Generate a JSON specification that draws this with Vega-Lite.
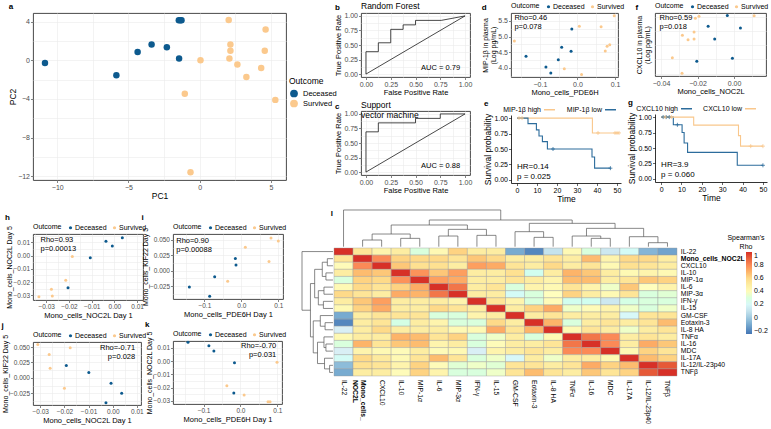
{
"$schema":"https://vega.github.io/schema/vega-lite/v6.json",
"background":"white",
"padding":{"left":0,"top":1,"right":0,"bottom":0},
"config":{
 "font":"Liberation Sans",
 "view":{"stroke":"#333333","strokeWidth":0.9},
 "axis":{"labelFontSize":7,"titleFontSize":7.5,"titleFontWeight":"normal","labelColor":"#4D4D4D","titleColor":"#000000","tickColor":"#333333","tickSize":2.5,"tickWidth":0.6,"domain":false,"gridColor":"#EBEBEB","gridWidth":0.6,"labelPadding":1,"titlePadding":1,"labelFlush":false,"labelOverlap":false,"labelBound":false,"tickCount":100},
 "legend":{"labelFontSize":7.5,"titleFontSize":7.5,"titleFontWeight":"normal","labelColor":"#000000","titleColor":"#000000"},
 "title":{"fontSize":8,"fontWeight":"bold","anchor":"start","frame":"bounds","offset":2,"color":"#000000"}
},
"datasets":{
 "leaves":[
  {"name":"IL-22","pos":0.5,"lab":"IL-22"},
  {"name":"Mono_cells_NOC2L","pos":1.5,"lab":"Mono_cells_\nNOC2L"},
  {"name":"CXCL10","pos":2.5,"lab":"CXCL10"},
  {"name":"IL-10","pos":3.5,"lab":"IL-10"},
  {"name":"MIP-1α","pos":4.5,"lab":"MIP-1α"},
  {"name":"IL-6","pos":5.5,"lab":"IL-6"},
  {"name":"MIP-3α","pos":6.5,"lab":"MIP-3α"},
  {"name":"IFN-γ","pos":7.5,"lab":"IFN-γ"},
  {"name":"IL-15","pos":8.5,"lab":"IL-15"},
  {"name":"GM-CSF","pos":9.5,"lab":"GM-CSF"},
  {"name":"Eotaxin-3","pos":10.5,"lab":"Eotaxin-3"},
  {"name":"IL-8 HA","pos":11.5,"lab":"IL-8 HA"},
  {"name":"TNFα","pos":12.5,"lab":"TNFα"},
  {"name":"IL-16","pos":13.5,"lab":"IL-16"},
  {"name":"MDC","pos":14.5,"lab":"MDC"},
  {"name":"IL-17A","pos":15.5,"lab":"IL-17A"},
  {"name":"IL-12/IL-23p40","pos":16.5,"lab":"IL-12/IL-23p40"},
  {"name":"TNFβ","pos":17.5,"lab":"TNFβ"}
 ],
 "hm":[
  {"r":"IL-22","c":["IL-22","Mono_cells_NOC2L","CXCL10","IL-10","MIP-1α","IL-6","MIP-3α","IFN-γ","IL-15","GM-CSF","Eotaxin-3","IL-8 HA","TNFα","IL-16","MDC","IL-17A","IL-12/IL-23p40","TNFβ"],"v":[1,0.55,0.45,0.5,0.3,0.42,0.62,0.5,0.5,-0.1,-0.2,0.1,0.42,0.3,0.12,0.22,-0.07,-0.12]},
  {"r":"Mono_cells_NOC2L","c":["IL-22","Mono_cells_NOC2L","CXCL10","IL-10","MIP-1α","IL-6","MIP-3α","IFN-γ","IL-15","GM-CSF","Eotaxin-3","IL-8 HA","TNFα","IL-16","MDC","IL-17A","IL-12/IL-23p40","TNFβ"],"v":[0.55,1,0.8,0.62,0.6,0.6,0.55,0.65,0.6,0.5,0.5,0.55,0.5,0.68,0.45,0.6,0.6,0.5]},
  {"r":"CXCL10","c":["IL-22","Mono_cells_NOC2L","CXCL10","IL-10","MIP-1α","IL-6","MIP-3α","IFN-γ","IL-15","GM-CSF","Eotaxin-3","IL-8 HA","TNFα","IL-16","MDC","IL-17A","IL-12/IL-23p40","TNFβ"],"v":[0.4,0.8,1,0.65,0.58,0.58,0.5,0.75,0.72,0.55,0.5,0.6,0.5,0.55,0.42,0.58,0.55,0.5]},
  {"r":"IL-10","c":["IL-22","Mono_cells_NOC2L","CXCL10","IL-10","MIP-1α","IL-6","MIP-3α","IFN-γ","IL-15","GM-CSF","Eotaxin-3","IL-8 HA","TNFα","IL-16","MDC","IL-17A","IL-12/IL-23p40","TNFβ"],"v":[0.5,0.68,0.65,1,0.78,0.65,0.75,0.5,0.5,0.58,0.25,0.5,0.7,0.65,0.5,0.42,0.45,0.42]},
  {"r":"MIP-1α","c":["IL-22","Mono_cells_NOC2L","CXCL10","IL-10","MIP-1α","IL-6","MIP-3α","IFN-γ","IL-15","GM-CSF","Eotaxin-3","IL-8 HA","TNFα","IL-16","MDC","IL-17A","IL-12/IL-23p40","TNFβ"],"v":[0.3,0.62,0.6,0.78,1,0.75,0.72,0.5,0.5,0.55,0.5,0.45,0.68,0.68,0.5,0.55,0.65,0.62]},
  {"r":"IL-6","c":["IL-22","Mono_cells_NOC2L","CXCL10","IL-10","MIP-1α","IL-6","MIP-3α","IFN-γ","IL-15","GM-CSF","Eotaxin-3","IL-8 HA","TNFα","IL-16","MDC","IL-17A","IL-12/IL-23p40","TNFβ"],"v":[0.42,0.6,0.55,0.62,0.72,1,0.85,0.5,0.55,0.3,0.45,0.42,0.55,0.45,0.35,0.65,0.38,0.45]},
  {"r":"MIP-3α","c":["IL-22","Mono_cells_NOC2L","CXCL10","IL-10","MIP-1α","IL-6","MIP-3α","IFN-γ","IL-15","GM-CSF","Eotaxin-3","IL-8 HA","TNFα","IL-16","MDC","IL-17A","IL-12/IL-23p40","TNFβ"],"v":[0.6,0.55,0.5,0.72,0.7,0.85,1,0.5,0.5,0.22,0.3,0.38,0.62,0.5,0.42,0.55,0.3,0.32]},
  {"r":"IFN-γ","c":["IL-22","Mono_cells_NOC2L","CXCL10","IL-10","MIP-1α","IL-6","MIP-3α","IFN-γ","IL-15","GM-CSF","Eotaxin-3","IL-8 HA","TNFα","IL-16","MDC","IL-17A","IL-12/IL-23p40","TNFβ"],"v":[0.5,0.65,0.75,0.5,0.5,0.5,0.45,1,0.55,0.45,0.3,0.4,0.25,0.25,0.12,0.28,0.3,0.3]},
  {"r":"IL-15","c":["IL-22","Mono_cells_NOC2L","CXCL10","IL-10","MIP-1α","IL-6","MIP-3α","IFN-γ","IL-15","GM-CSF","Eotaxin-3","IL-8 HA","TNFα","IL-16","MDC","IL-17A","IL-12/IL-23p40","TNFβ"],"v":[0.42,0.62,0.72,0.5,0.5,0.6,0.55,0.5,1,0.5,0.62,0.72,0.35,0.4,0.45,0.35,0.3,0.35]},
  {"r":"GM-CSF","c":["IL-22","Mono_cells_NOC2L","CXCL10","IL-10","MIP-1α","IL-6","MIP-3α","IFN-γ","IL-15","GM-CSF","Eotaxin-3","IL-8 HA","TNFα","IL-16","MDC","IL-17A","IL-12/IL-23p40","TNFβ"],"v":[-0.1,0.5,0.55,0.55,0.55,0.3,0.3,0.45,0.5,1,0.5,0.55,0.5,0.5,0.5,0.2,0.55,0.55]},
  {"r":"Eotaxin-3","c":["IL-22","Mono_cells_NOC2L","CXCL10","IL-10","MIP-1α","IL-6","MIP-3α","IFN-γ","IL-15","GM-CSF","Eotaxin-3","IL-8 HA","TNFα","IL-16","MDC","IL-17A","IL-12/IL-23p40","TNFβ"],"v":[-0.2,0.5,0.55,0.28,0.5,0.45,0.3,0.3,0.6,0.5,1,0.7,0.3,0.5,0.55,0.5,0.55,0.68]},
  {"r":"IL-8 HA","c":["IL-22","Mono_cells_NOC2L","CXCL10","IL-10","MIP-1α","IL-6","MIP-3α","IFN-γ","IL-15","GM-CSF","Eotaxin-3","IL-8 HA","TNFα","IL-16","MDC","IL-17A","IL-12/IL-23p40","TNFβ"],"v":[0.15,0.5,0.6,0.5,0.5,0.5,0.42,0.42,0.72,0.55,0.7,1,0.42,0.55,0.5,0.35,0.5,0.55]},
  {"r":"TNFα","c":["IL-22","Mono_cells_NOC2L","CXCL10","IL-10","MIP-1α","IL-6","MIP-3α","IFN-γ","IL-15","GM-CSF","Eotaxin-3","IL-8 HA","TNFα","IL-16","MDC","IL-17A","IL-12/IL-23p40","TNFβ"],"v":[0.42,0.5,0.5,0.7,0.68,0.55,0.62,0.3,0.35,0.5,0.3,0.42,1,0.85,0.8,0.5,0.55,0.5]},
  {"r":"IL-16","c":["IL-22","Mono_cells_NOC2L","CXCL10","IL-10","MIP-1α","IL-6","MIP-3α","IFN-γ","IL-15","GM-CSF","Eotaxin-3","IL-8 HA","TNFα","IL-16","MDC","IL-17A","IL-12/IL-23p40","TNFβ"],"v":[0.3,0.7,0.55,0.65,0.68,0.45,0.5,0.3,0.4,0.5,0.5,0.55,0.85,1,0.8,0.5,0.72,0.65]},
  {"r":"MDC","c":["IL-22","Mono_cells_NOC2L","CXCL10","IL-10","MIP-1α","IL-6","MIP-3α","IFN-γ","IL-15","GM-CSF","Eotaxin-3","IL-8 HA","TNFα","IL-16","MDC","IL-17A","IL-12/IL-23p40","TNFβ"],"v":[0.15,0.45,0.42,0.4,0.5,0.4,0.42,0.15,0.45,0.5,0.55,0.5,0.8,0.8,1,0.42,0.62,0.55]},
  {"r":"IL-17A","c":["IL-22","Mono_cells_NOC2L","CXCL10","IL-10","MIP-1α","IL-6","MIP-3α","IFN-γ","IL-15","GM-CSF","Eotaxin-3","IL-8 HA","TNFα","IL-16","MDC","IL-17A","IL-12/IL-23p40","TNFβ"],"v":[0.22,0.6,0.52,0.42,0.55,0.68,0.55,0.3,0.35,0.2,0.5,0.35,0.5,0.5,0.42,1,0.68,0.62]},
  {"r":"IL-12/IL-23p40","c":["IL-22","Mono_cells_NOC2L","CXCL10","IL-10","MIP-1α","IL-6","MIP-3α","IFN-γ","IL-15","GM-CSF","Eotaxin-3","IL-8 HA","TNFα","IL-16","MDC","IL-17A","IL-12/IL-23p40","TNFβ"],"v":[-0.05,0.58,0.55,0.45,0.62,0.4,0.32,0.35,0.32,0.55,0.55,0.5,0.55,0.72,0.62,0.68,1,0.92]},
  {"r":"TNFβ","c":["IL-22","Mono_cells_NOC2L","CXCL10","IL-10","MIP-1α","IL-6","MIP-3α","IFN-γ","IL-15","GM-CSF","Eotaxin-3","IL-8 HA","TNFα","IL-16","MDC","IL-17A","IL-12/IL-23p40","TNFβ"],"v":[-0.1,0.5,0.5,0.4,0.62,0.45,0.3,0.3,0.35,0.55,0.68,0.55,0.5,0.65,0.55,0.62,0.92,1]}
 ],
 "dendro":[
  {"p1":1.5,"p2":2.5,"h1":20,"h2":20},{"p1":1.5,"p2":1.5,"h1":0,"h2":20},{"p1":2.5,"p2":2.5,"h1":0,"h2":20},
  {"p1":3.5,"p2":4.5,"h1":25,"h2":25},{"p1":3.5,"p2":3.5,"h1":0,"h2":25},{"p1":4.5,"p2":4.5,"h1":0,"h2":25},
  {"p1":2,"p2":4,"h1":38,"h2":38},{"p1":2,"p2":2,"h1":20,"h2":38},{"p1":4,"p2":4,"h1":25,"h2":38},
  {"p1":5.5,"p2":6.5,"h1":32,"h2":32},{"p1":5.5,"p2":5.5,"h1":0,"h2":32},{"p1":6.5,"p2":6.5,"h1":0,"h2":32},
  {"p1":7.5,"p2":8.5,"h1":34,"h2":34},{"p1":7.5,"p2":7.5,"h1":0,"h2":34},{"p1":8.5,"p2":8.5,"h1":0,"h2":34},
  {"p1":6,"p2":8,"h1":52,"h2":52},{"p1":6,"p2":6,"h1":32,"h2":52},{"p1":8,"p2":8,"h1":34,"h2":52},
  {"p1":3,"p2":7,"h1":65,"h2":65},{"p1":3,"p2":3,"h1":38,"h2":65},{"p1":7,"p2":7,"h1":52,"h2":65},
  {"p1":10.5,"p2":11.5,"h1":28,"h2":28},{"p1":10.5,"p2":10.5,"h1":0,"h2":28},{"p1":11.5,"p2":11.5,"h1":0,"h2":28},
  {"p1":9.5,"p2":11,"h1":45,"h2":45},{"p1":9.5,"p2":9.5,"h1":0,"h2":45},{"p1":11,"p2":11,"h1":28,"h2":45},
  {"p1":13.5,"p2":14.5,"h1":25,"h2":25},{"p1":13.5,"p2":13.5,"h1":0,"h2":25},{"p1":14.5,"p2":14.5,"h1":0,"h2":25},
  {"p1":12.5,"p2":14,"h1":32,"h2":32},{"p1":12.5,"p2":12.5,"h1":0,"h2":32},{"p1":14,"p2":14,"h1":25,"h2":32},
  {"p1":16.5,"p2":17.5,"h1":12,"h2":12},{"p1":16.5,"p2":16.5,"h1":0,"h2":12},{"p1":17.5,"p2":17.5,"h1":0,"h2":12},
  {"p1":15.5,"p2":17,"h1":30,"h2":30},{"p1":15.5,"p2":15.5,"h1":0,"h2":30},{"p1":17,"p2":17,"h1":12,"h2":30},
  {"p1":13.25,"p2":16.25,"h1":55,"h2":55},{"p1":13.25,"p2":13.25,"h1":32,"h2":55},{"p1":16.25,"p2":16.25,"h1":30,"h2":55},
  {"p1":10.25,"p2":14.75,"h1":70,"h2":70},{"p1":10.25,"p2":10.25,"h1":45,"h2":70},{"p1":14.75,"p2":14.75,"h1":55,"h2":70},
  {"p1":5,"p2":12.5,"h1":80,"h2":80},{"p1":5,"p2":5,"h1":65,"h2":80},{"p1":12.5,"p2":12.5,"h1":70,"h2":80},
  {"p1":0.5,"p2":8.75,"h1":110,"h2":110},{"p1":0.5,"p2":0.5,"h1":0,"h2":110},{"p1":8.75,"p2":8.75,"h1":80,"h2":110}
 ]
},
"spacing":6,
"resolve":{"scale":{"color":"independent"},"legend":{"color":"independent"}},
"vconcat":[
 {"hconcat":[
  {
   "title":{"text":"a"},
   "width":253,"height":167,
   "data":{"values":[
    {"PC1":-10.86,"PC2":-0.27,"Outcome":"Deceased"},{"PC1":-5.85,"PC2":-1.55,"Outcome":"Deceased"},{"PC1":-4.36,"PC2":0.87,"Outcome":"Deceased"},{"PC1":-3.38,"PC2":1.64,"Outcome":"Deceased"},{"PC1":-2.31,"PC2":1.36,"Outcome":"Deceased"},{"PC1":-1.45,"PC2":0.18,"Outcome":"Deceased"},{"PC1":-1.47,"PC2":4.14,"Outcome":"Deceased"},{"PC1":-1.36,"PC2":4.15,"Outcome":"Deceased"},{"PC1":-1.28,"PC2":4.14,"Outcome":"Deceased"},
    {"PC1":0.05,"PC2":0.0,"Outcome":"Survived"},{"PC1":-1.05,"PC2":-3.47,"Outcome":"Survived"},{"PC1":-0.65,"PC2":-11.6,"Outcome":"Survived"},{"PC1":2.03,"PC2":4.17,"Outcome":"Survived"},{"PC1":2.15,"PC2":1.64,"Outcome":"Survived"},{"PC1":2.15,"PC2":1.0,"Outcome":"Survived"},{"PC1":2.08,"PC2":0.18,"Outcome":"Survived"},{"PC1":2.64,"PC2":-0.44,"Outcome":"Survived"},{"PC1":3.27,"PC2":-1.73,"Outcome":"Survived"},{"PC1":4.31,"PC2":-0.8,"Outcome":"Survived"},{"PC1":4.62,"PC2":3.2,"Outcome":"Survived"},{"PC1":4.56,"PC2":1.0,"Outcome":"Survived"},{"PC1":5.3,"PC2":-4.1,"Outcome":"Survived"}
   ]},
   "mark":{"type":"circle","size":42,"opacity":1},
   "encoding":{
    "x":{"field":"PC1","type":"quantitative","scale":{"domain":[-11.7,6.05],"nice":false,"zero":false},
     "axis":{"title":"PC1","titleFontSize":8.5,"labelFontSize":7,"tickCount":100,"labelOverlap":false,"format":"d","values":[-10,-7.5,-5,-2.5,0,2.5,5],"labelExpr":"indexof([-10,-5,0,5],datum.value)>=0?datum.label:''","tickOpacity":{"condition":{"test":"indexof([-10,-5,0,5],datum.value)<0","value":0},"value":1}}},
    "y":{"field":"PC2","type":"quantitative","scale":{"domain":[-12.4,4.9],"nice":false,"zero":false},
     "axis":{"title":"PC2","titleFontSize":8.5,"labelFontSize":7,"titlePadding":0,"tickCount":100,"labelOverlap":false,"format":"d","values":[-12,-10,-8,-6,-4,-2,0,2,4],"labelExpr":"indexof([-12,-8,-4,0,4],datum.value)>=0?datum.label:''","tickOpacity":{"condition":{"test":"indexof([-12,-8,-4,0,4],datum.value)<0","value":0},"value":1}}},
    "color":{"field":"Outcome","type":"nominal","scale":{"domain":["Deceased","Survived"],"range":["#0D5A8E","#FBC98D"]},
     "legend":{"orient":"none","legendX":256,"legendY":64,"title":"Outcome","symbolSize":60,"symbolType":"circle","titleFontSize":8.5,"labelFontSize":7.5,"rowPadding":1,"titlePadding":3}}
   }
  },
  {"hconcat":[
   {"vconcat":[
    {
     "title":{"text":"b","offset":-10},
     "width":109,"height":64,
     "layer":[
      {"data":{"values":[{"i":0,"fpr":0,"tpr":0},{"i":1,"fpr":0,"tpr":0.385},{"i":2,"fpr":0.125,"tpr":0.385},{"i":3,"fpr":0.125,"tpr":0.538},{"i":4,"fpr":0.25,"tpr":0.538},{"i":5,"fpr":0.25,"tpr":0.769},{"i":6,"fpr":0.375,"tpr":0.769},{"i":7,"fpr":0.375,"tpr":0.846},{"i":8,"fpr":0.5,"tpr":0.846},{"i":9,"fpr":0.5,"tpr":0.923},{"i":10,"fpr":0.76,"tpr":0.923},{"i":11,"fpr":1,"tpr":1}]},
       "mark":{"type":"line","color":"#1a1a1a","strokeWidth":0.8},
       "encoding":{
        "x":{"field":"fpr","type":"quantitative","scale":{"domain":[-0.05,1.05],"nice":false,"zero":false},"axis":{"title":"False Positive Rate","tickCount":100,"labelOverlap":false,"format":".2f","values":[0,0.125,0.25,0.375,0.5,0.625,0.75,0.875,1],"labelExpr":"indexof([0,0.25,0.5,0.75,1],datum.value)>=0?datum.label:''","tickOpacity":{"condition":{"test":"indexof([0,0.25,0.5,0.75,1],datum.value)<0","value":0},"value":1}}},
        "y":{"field":"tpr","type":"quantitative","scale":{"domain":[-0.05,1.05],"nice":false,"zero":false},"axis":{"title":"True Positive Rate","tickCount":100,"labelOverlap":false,"format":".2f","values":[0,0.125,0.25,0.375,0.5,0.625,0.75,0.875,1],"labelExpr":"indexof([0,0.25,0.5,0.75,1],datum.value)>=0?datum.label:''","tickOpacity":{"condition":{"test":"indexof([0,0.25,0.5,0.75,1],datum.value)<0","value":0},"value":1}}},
        "order":{"field":"i"}}},
      {"data":{"values":[{}]},"mark":{"type":"rule","color":"#1a1a1a","strokeWidth":0.8},"encoding":{"x":{"datum":0},"y":{"datum":0},"x2":{"datum":1},"y2":{"datum":1}}},
      {"data":{"values":[{}]},"mark":{"type":"text","align":"right","baseline":"middle","fontSize":7.5},"encoding":{"x":{"datum":0.95},"y":{"datum":0.1},"text":{"value":"AUC = 0.79"}}},
      {"data":{"values":[{}]},"mark":{"type":"text","align":"left","baseline":"bottom","fontSize":8.5,"dy":-2},"encoding":{"x":{"datum":-0.05},"y":{"datum":1.05},"text":{"value":"Random Forest"}}}
     ]
    },
    {
     "title":{"text":"c","offset":-10},
     "width":109,"height":64,
     "layer":[
      {"data":{"values":[{"i":0,"fpr":0,"tpr":0},{"i":1,"fpr":0,"tpr":0.692},{"i":2,"fpr":0.125,"tpr":0.692},{"i":3,"fpr":0.125,"tpr":0.846},{"i":4,"fpr":0.5,"tpr":0.846},{"i":5,"fpr":0.5,"tpr":0.923},{"i":6,"fpr":0.75,"tpr":0.923},{"i":7,"fpr":0.75,"tpr":1},{"i":8,"fpr":1,"tpr":1}]},
       "mark":{"type":"line","color":"#1a1a1a","strokeWidth":0.8},
       "encoding":{
        "x":{"field":"fpr","type":"quantitative","scale":{"domain":[-0.05,1.05],"nice":false,"zero":false},"axis":{"title":"False Positive Rate","tickCount":100,"labelOverlap":false,"format":".2f","values":[0,0.125,0.25,0.375,0.5,0.625,0.75,0.875,1],"labelExpr":"indexof([0,0.25,0.5,0.75,1],datum.value)>=0?datum.label:''","tickOpacity":{"condition":{"test":"indexof([0,0.25,0.5,0.75,1],datum.value)<0","value":0},"value":1}}},
        "y":{"field":"tpr","type":"quantitative","scale":{"domain":[-0.05,1.05],"nice":false,"zero":false},"axis":{"title":"True Positive Rate","tickCount":100,"labelOverlap":false,"format":".2f","values":[0,0.125,0.25,0.375,0.5,0.625,0.75,0.875,1],"labelExpr":"indexof([0,0.25,0.5,0.75,1],datum.value)>=0?datum.label:''","tickOpacity":{"condition":{"test":"indexof([0,0.25,0.5,0.75,1],datum.value)<0","value":0},"value":1}}},
        "order":{"field":"i"}}},
      {"data":{"values":[{}]},"mark":{"type":"rule","color":"#1a1a1a","strokeWidth":0.8},"encoding":{"x":{"datum":0},"y":{"datum":0},"x2":{"datum":1},"y2":{"datum":1}}},
      {"data":{"values":[{}]},"mark":{"type":"text","align":"right","baseline":"middle","fontSize":7.5},"encoding":{"x":{"datum":0.95},"y":{"datum":0.1},"text":{"value":"AUC = 0.88"}}},
      {"data":{"values":[{}]},"mark":{"type":"text","align":"left","baseline":"bottom","fontSize":8.5,"dy":-1,"lineBreak":"\n","lineHeight":9.5},"encoding":{"x":{"datum":-0.05},"y":{"datum":1.05},"text":{"value":"Support\nvector machine"}}}
     ]
    }
   ],"spacing":3,"resolve":{"scale":{"color":"independent"},"legend":{"color":"independent"}}},
   {"hconcat":[
    {"vconcat":[
     {
      "title":{"text":"d","offset":-9},
      "width":107,"height":64,
      "layer":[
       {"data":{"values":[
         {"x":-0.168,"y":4.86,"Outcome":"Survived"},{"x":0.098,"y":5.66,"Outcome":"Survived"},{"x":0.005,"y":5.33,"Outcome":"Survived"},{"x":0.063,"y":5.31,"Outcome":"Survived"},{"x":0.086,"y":4.74,"Outcome":"Survived"},{"x":0.079,"y":4.69,"Outcome":"Survived"},{"x":0.074,"y":4.54,"Outcome":"Survived"},{"x":-0.035,"y":3.97,"Outcome":"Survived"},{"x":0.011,"y":3.79,"Outcome":"Survived"},
         {"x":-0.015,"y":5.24,"Outcome":"Deceased"},{"x":-0.042,"y":4.66,"Outcome":"Deceased"},{"x":-0.017,"y":4.53,"Outcome":"Deceased"},{"x":-0.137,"y":4.37,"Outcome":"Deceased"},{"x":-0.051,"y":4.26,"Outcome":"Deceased"},{"x":-0.084,"y":4.03,"Outcome":"Deceased"},{"x":-0.071,"y":3.84,"Outcome":"Deceased"}]},
        "mark":{"type":"circle","size":9,"opacity":1},
        "encoding":{
         "x":{"field":"x","type":"quantitative","scale":{"domain":[-0.177,0.108],"nice":false,"zero":false},"axis":{"title":"Mono_cells_PDE6H","tickCount":100,"labelOverlap":false,"format":".1f","values":[-0.15,-0.1,-0.05,0,0.05,0.1],"labelExpr":"indexof([-0.1,0,0.1],datum.value)>=0?datum.label:''","tickOpacity":{"condition":{"test":"indexof([-0.1,0,0.1],datum.value)<0","value":0},"value":1}}},
         "y":{"field":"y","type":"quantitative","scale":{"domain":[3.71,5.75],"nice":false,"zero":false},"axis":{"title":["MIP-1β in plasma","(Log pg/mL)"],"titleLineHeight":8,"titleFontSize":7,"tickCount":100,"labelOverlap":false,"format":".1f","values":[3.75,4,4.25,4.5,4.75,5,5.25,5.5],"labelExpr":"indexof([4,4.5,5,5.5],datum.value)>=0?datum.label:''","tickOpacity":{"condition":{"test":"indexof([4,4.5,5,5.5],datum.value)<0","value":0},"value":1}}},
         "color":{"field":"Outcome","type":"nominal","scale":{"domain":["Deceased","Survived"],"range":["#0D5A8E","#FBC98D"]},"legend":{"orient":"top","direction":"horizontal","title":"Outcome","titleOrient":"left","symbolType":"circle","symbolSize":10,"offset":3,"columnPadding":4,"titlePadding":5,"labelOffset":1,"labelFontSize":7,"titleFontSize":7}}}},
       {"data":{"values":[{}]},"mark":{"type":"text","align":"left","baseline":"top","fontSize":7.5,"lineBreak":"\n","lineHeight":9},"encoding":{"x":{"datum":-0.168},"y":{"datum":5.71},"text":{"value":"Rho=0.46\np=0.078"}}}
      ]
     },
     {
      "title":{"text":"e","offset":-5},
      "width":110,"height":68,
      "view":{"stroke":null},
      "layer":[
       {"data":{"values":[
         {"t":0,"s":1,"g":"MIP-1β high"},{"t":37.7,"s":0.76,"g":"MIP-1β high"},{"t":51,"s":0.76,"g":"MIP-1β high"},
         {"t":0,"s":1,"g":"MIP-1β low"},{"t":5.5,"s":0.91,"g":"MIP-1β low"},{"t":9.7,"s":0.81,"g":"MIP-1β low"},{"t":11,"s":0.71,"g":"MIP-1β low"},{"t":12.7,"s":0.62,"g":"MIP-1β low"},{"t":15.2,"s":0.5,"g":"MIP-1β low"},{"t":37.5,"s":0.37,"g":"MIP-1β low"},{"t":38.8,"s":0.19,"g":"MIP-1β low"},{"t":46.7,"s":0.19,"g":"MIP-1β low"}]},
        "mark":{"type":"line","interpolate":"step-after","strokeWidth":1.1},
        "encoding":{
         "x":{"field":"t","type":"quantitative","scale":{"domain":[-3,52],"nice":false,"zero":false},"axis":{"title":"Time","format":"d","tickCount":100,"labelOverlap":false,"values":[0,10,20,30,40,50],"grid":false,"domain":true,"domainColor":"#000000","domainWidth":0.8,"tickColor":"#000000","labelColor":"#000000","titleFontSize":8.5,"labelFontSize":7}},
         "y":{"field":"s","type":"quantitative","scale":{"domain":[-0.05,1.05],"nice":false,"zero":false},"axis":{"title":"Survival probability","tickCount":100,"labelOverlap":false,"values":[0,0.25,0.5,0.75,1],"format":".2f","grid":false,"domain":true,"domainColor":"#000000","domainWidth":0.8,"tickColor":"#000000","labelColor":"#000000","titleFontSize":8.5,"labelFontSize":7}},
         "color":{"field":"g","type":"nominal","scale":{"domain":["MIP-1β high","MIP-1β low"],"range":["#F9C78C","#2C6C9C"]},"legend":{"orient":"none","legendX":32,"legendY":-12,"direction":"horizontal","title":null,"symbolType":"stroke","symbolStrokeWidth":1.5,"symbolSize":120,"labelAlign":"right","labelOffset":-15,"columnPadding":8,"labelFontSize":7}}}},
       {"data":{"values":[{"t":1,"s":1,"g":"MIP-1β high"},{"t":2.5,"s":1,"g":"MIP-1β high"},{"t":40.5,"s":0.76,"g":"MIP-1β high"},{"t":49,"s":0.76,"g":"MIP-1β high"},{"t":50,"s":0.76,"g":"MIP-1β high"},{"t":51,"s":0.76,"g":"MIP-1β high"},{"t":18,"s":0.5,"g":"MIP-1β low"},{"t":46.7,"s":0.19,"g":"MIP-1β low"}]},
        "mark":{"type":"point","shape":"M-1,0H1M0,-1V1","filled":false,"size":16,"strokeWidth":0.8,"opacity":1},
        "encoding":{"x":{"field":"t","type":"quantitative"},"y":{"field":"s","type":"quantitative"},"color":{"field":"g","type":"nominal","legend":null}}},
       {"data":{"values":[{}]},"mark":{"type":"text","align":"left","baseline":"middle","fontSize":8,"lineBreak":"\n","lineHeight":10},"encoding":{"x":{"datum":0},"y":{"datum":0.21},"text":{"value":"HR=0.14\np = 0.025"}}}
      ]
     }
    ],"spacing":3,"resolve":{"scale":{"color":"independent"},"legend":{"color":"independent"}}},
    {"vconcat":[
     {
      "title":{"text":"f","offset":-9},
      "width":111,"height":63,
      "layer":[
       {"data":{"values":[
         {"x":-0.0338,"y":6.61,"Outcome":"Survived"},{"x":-0.0285,"y":5.53,"Outcome":"Survived"},{"x":-0.0283,"y":8.21,"Outcome":"Survived"},{"x":-0.0252,"y":7.89,"Outcome":"Survived"},{"x":-0.0219,"y":7.94,"Outcome":"Survived"},{"x":-0.0219,"y":8.43,"Outcome":"Survived"},{"x":-0.0212,"y":9.4,"Outcome":"Survived"},{"x":-0.0192,"y":9.54,"Outcome":"Survived"},{"x":0.011,"y":9.58,"Outcome":"Survived"},
         {"x":-0.0204,"y":6.37,"Outcome":"Deceased"},{"x":-0.0142,"y":8.84,"Outcome":"Deceased"},{"x":-0.0106,"y":7.94,"Outcome":"Deceased"},{"x":-0.0037,"y":9.59,"Outcome":"Deceased"},{"x":-0.0009,"y":6.58,"Outcome":"Deceased"},{"x":0.0035,"y":8.72,"Outcome":"Deceased"}]},
        "mark":{"type":"circle","size":9,"opacity":1},
        "encoding":{
         "x":{"field":"x","type":"quantitative","scale":{"domain":[-0.0433,0.0175],"nice":false,"zero":false},"axis":{"title":"Mono_cells_NOC2L","tickCount":100,"labelOverlap":false,"format":".2f","values":[-0.04,-0.03,-0.02,-0.01,0,0.01],"labelExpr":"indexof([-0.04,-0.02,0],datum.value)>=0?datum.label:''","tickOpacity":{"condition":{"test":"indexof([-0.04,-0.02,0],datum.value)<0","value":0},"value":1}}},
         "y":{"field":"y","type":"quantitative","scale":{"domain":[5.33,9.77],"nice":false,"zero":false},"axis":{"title":["CXCL10 in plasma","(Log pg/mL)"],"titleLineHeight":8,"titleFontSize":7,"tickCount":100,"labelOverlap":false,"format":"d","values":[5.5,6,6.5,7,7.5,8,8.5,9,9.5],"labelExpr":"indexof([6,7,8,9],datum.value)>=0?datum.label:''","tickOpacity":{"condition":{"test":"indexof([6,7,8,9],datum.value)<0","value":0},"value":1}}},
         "color":{"field":"Outcome","type":"nominal","scale":{"domain":["Deceased","Survived"],"range":["#0D5A8E","#FBC98D"]},"legend":{"orient":"top","direction":"horizontal","title":"Outcome","titleOrient":"left","symbolType":"circle","symbolSize":10,"offset":3,"columnPadding":4,"titlePadding":5,"labelOffset":1,"labelFontSize":7,"titleFontSize":7}}}},
       {"data":{"values":[{}]},"mark":{"type":"text","align":"left","baseline":"top","fontSize":7.5,"lineBreak":"\n","lineHeight":9},"encoding":{"x":{"datum":-0.0408},"y":{"datum":9.68},"text":{"value":"Rho=0.59\np=0.018"}}}
      ]
     },
     {
      "title":{"text":"g","offset":-5},
      "width":112,"height":68,
      "view":{"stroke":null},
      "layer":[
       {"data":{"values":[
         {"t":0,"s":1,"g":"CXCL10 high"},{"t":6,"s":0.875,"g":"CXCL10 high"},{"t":10.3,"s":0.75,"g":"CXCL10 high"},{"t":11.3,"s":0.58,"g":"CXCL10 high"},{"t":13,"s":0.43,"g":"CXCL10 high"},{"t":37.4,"s":0.22,"g":"CXCL10 high"},{"t":50,"s":0.22,"g":"CXCL10 high"},
         {"t":0,"s":1,"g":"CXCL10 low"},{"t":16,"s":0.87,"g":"CXCL10 low"},{"t":38,"s":0.7,"g":"CXCL10 low"},{"t":39,"s":0.53,"g":"CXCL10 low"},{"t":50,"s":0.53,"g":"CXCL10 low"}]},
        "mark":{"type":"line","interpolate":"step-after","strokeWidth":1.1},
        "encoding":{
         "x":{"field":"t","type":"quantitative","scale":{"domain":[-3,52],"nice":false,"zero":false},"axis":{"title":"Time","format":"d","tickCount":100,"labelOverlap":false,"values":[0,10,20,30,40,50],"grid":false,"domain":true,"domainColor":"#000000","domainWidth":0.8,"tickColor":"#000000","labelColor":"#000000","titleFontSize":8.5,"labelFontSize":7}},
         "y":{"field":"s","type":"quantitative","scale":{"domain":[-0.05,1.05],"nice":false,"zero":false},"axis":{"title":"Survival probability","tickCount":100,"labelOverlap":false,"values":[0,0.25,0.5,0.75,1],"format":".2f","grid":false,"domain":true,"domainColor":"#000000","domainWidth":0.8,"tickColor":"#000000","labelColor":"#000000","titleFontSize":8.5,"labelFontSize":7}},
         "color":{"field":"g","type":"nominal","scale":{"domain":["CXCL10 high","CXCL10 low"],"range":["#2C6C9C","#F9C78C"]},"legend":{"orient":"none","legendX":25,"legendY":-12,"direction":"horizontal","title":null,"symbolType":"stroke","symbolStrokeWidth":1.5,"symbolSize":120,"labelAlign":"right","labelOffset":-15,"columnPadding":8,"labelFontSize":7}}}},
       {"data":{"values":[{"t":1,"s":1,"g":"CXCL10 high"},{"t":2.5,"s":1,"g":"CXCL10 high"},{"t":4,"s":1,"g":"CXCL10 high"},{"t":8,"s":0.875,"g":"CXCL10 high"},{"t":50,"s":0.22,"g":"CXCL10 high"},{"t":2,"s":1,"g":"CXCL10 low"},{"t":5,"s":1,"g":"CXCL10 low"},{"t":44,"s":0.53,"g":"CXCL10 low"},{"t":50,"s":0.53,"g":"CXCL10 low"}]},
        "mark":{"type":"point","shape":"M-1,0H1M0,-1V1","filled":false,"size":16,"strokeWidth":0.8,"opacity":1},
        "encoding":{"x":{"field":"t","type":"quantitative"},"y":{"field":"s","type":"quantitative"},"color":{"field":"g","type":"nominal","legend":null}}},
       {"data":{"values":[{}]},"mark":{"type":"text","align":"left","baseline":"middle","fontSize":8,"lineBreak":"\n","lineHeight":10},"encoding":{"x":{"datum":0},"y":{"datum":0.22},"text":{"value":"HR=3.9\np = 0.060"}}}
      ]
     }
    ],"spacing":3,"resolve":{"scale":{"color":"independent"},"legend":{"color":"independent"}}}
   ],"spacing":1,"resolve":{"scale":{"color":"independent"},"legend":{"color":"independent"}}}
  ],"spacing":8,"resolve":{"scale":{"color":"independent"},"legend":{"color":"independent"}}}
 ],"spacing":-4,"resolve":{"scale":{"color":"independent"},"legend":{"color":"independent"}}},
 {"hconcat":[
  {"hconcat":[
   {"vconcat":[
    {
     "title":{"text":"h"},
     "width":110,"height":66,
     "layer":[
      {"data":{"values":[
        {"x":-0.0204,"y":-0.0243,"Outcome":"Deceased"},{"x":-0.0106,"y":-0.0016,"Outcome":"Deceased"},{"x":-0.0037,"y":0.0108,"Outcome":"Deceased"},{"x":-0.0009,"y":0.0072,"Outcome":"Deceased"},{"x":0.0035,"y":0.0135,"Outcome":"Deceased"},
        {"x":-0.0185,"y":-0.0008,"Outcome":"Survived"},{"x":-0.0214,"y":-0.0187,"Outcome":"Survived"},{"x":-0.0277,"y":-0.0255,"Outcome":"Survived"},{"x":-0.0273,"y":-0.0306,"Outcome":"Survived"},{"x":-0.0332,"y":-0.0311,"Outcome":"Survived"}]},
       "mark":{"type":"circle","size":9,"opacity":1},
       "encoding":{
        "x":{"field":"x","type":"quantitative","scale":{"domain":[-0.0358,0.0126],"nice":false,"zero":false},"axis":{"title":"Mono_cells_NOC2L Day 1","labelFontSize":6.5,"tickCount":100,"labelOverlap":false,"format":".2f","values":[-0.035,-0.03,-0.025,-0.02,-0.015,-0.01,-0.005,0,0.005,0.01],"labelExpr":"indexof([-0.03,-0.02,-0.01,0,0.01],datum.value)>=0?datum.label:''","tickOpacity":{"condition":{"test":"indexof([-0.03,-0.02,-0.01,0,0.01],datum.value)<0","value":0},"value":1}}},
        "y":{"field":"y","type":"quantitative","scale":{"domain":[-0.0336,0.0163],"nice":false,"zero":false},"axis":{"title":"Mono_cells_NOC2L Day 5","labelFontSize":6.5,"titleFontSize":7,"tickCount":100,"labelOverlap":false,"format":".2f","values":[-0.03,-0.025,-0.02,-0.015,-0.01,-0.005,0,0.005,0.01,0.015],"labelExpr":"indexof([-0.03,-0.02,-0.01,0,0.01],datum.value)>=0?datum.label:''","tickOpacity":{"condition":{"test":"indexof([-0.03,-0.02,-0.01,0,0.01],datum.value)<0","value":0},"value":1}}},
        "color":{"field":"Outcome","type":"nominal","scale":{"domain":["Deceased","Survived"],"range":["#0D5A8E","#FBC98D"]},"legend":{"orient":"top","direction":"horizontal","title":"Outcome","titleOrient":"left","symbolType":"circle","symbolSize":10,"offset":3,"columnPadding":4,"titlePadding":5,"labelOffset":1,"labelFontSize":7,"titleFontSize":7}}}},
      {"data":{"values":[{}]},"mark":{"type":"text","align":"left","baseline":"top","fontSize":7.5,"lineBreak":"\n","lineHeight":9},"encoding":{"x":{"datum":-0.0325},"y":{"datum":0.0145},"text":{"value":"Rho=0.93\np=0.00013"}}}
     ]
    },
    {
     "title":{"text":"j"},
     "width":108,"height":63,
     "layer":[
      {"data":{"values":[
        {"x":-0.031,"y":0.0543,"Outcome":"Survived"},{"x":-0.0263,"y":0.038,"Outcome":"Survived"},{"x":-0.0259,"y":0.0157,"Outcome":"Survived"},{"x":-0.0176,"y":0.0489,"Outcome":"Survived"},{"x":-0.02,"y":-0.0168,"Outcome":"Survived"},
        {"x":-0.0192,"y":0.0201,"Outcome":"Deceased"},{"x":-0.0099,"y":0.0087,"Outcome":"Deceased"},{"x":-0.0007,"y":-0.0087,"Outcome":"Deceased"},{"x":0.0037,"y":-0.025,"Outcome":"Deceased"},{"x":-0.0028,"y":-0.0402,"Outcome":"Deceased"}]},
       "mark":{"type":"circle","size":9,"opacity":1},
       "encoding":{
        "x":{"field":"x","type":"quantitative","scale":{"domain":[-0.033,0.0117],"nice":false,"zero":false},"axis":{"title":"Mono_cells_NOC2L Day 1","labelFontSize":6.5,"tickCount":100,"labelOverlap":false,"format":".2f","values":[-0.03,-0.025,-0.02,-0.015,-0.01,-0.005,0,0.005,0.01],"labelExpr":"indexof([-0.03,-0.02,-0.01,0,0.01],datum.value)>=0?datum.label:''","tickOpacity":{"condition":{"test":"indexof([-0.03,-0.02,-0.01,0,0.01],datum.value)<0","value":0},"value":1}}},
        "y":{"field":"y","type":"quantitative","scale":{"domain":[-0.044,0.0582],"nice":false,"zero":false},"axis":{"title":"Mono_cells_KIF22 Day 5","labelFontSize":6.5,"titleFontSize":7,"tickCount":100,"labelOverlap":false,"format":".3f","values":[-0.0375,-0.025,-0.0125,0,0.0125,0.025,0.0375,0.05],"labelExpr":"indexof([-0.025,0,0.025,0.05],datum.value)>=0?datum.label:''","tickOpacity":{"condition":{"test":"indexof([-0.025,0,0.025,0.05],datum.value)<0","value":0},"value":1}}},
        "color":{"field":"Outcome","type":"nominal","scale":{"domain":["Deceased","Survived"],"range":["#0D5A8E","#FBC98D"]},"legend":{"orient":"top","direction":"horizontal","title":"Outcome","titleOrient":"left","symbolType":"circle","symbolSize":10,"offset":3,"columnPadding":4,"titlePadding":5,"labelOffset":1,"labelFontSize":7,"titleFontSize":7}}}},
      {"data":{"values":[{}]},"mark":{"type":"text","align":"right","baseline":"top","fontSize":7.5,"lineBreak":"\n","lineHeight":9},"encoding":{"x":{"datum":0.0093},"y":{"datum":0.0555},"text":{"value":"Rho=-0.71\np=0.028"}}}
     ]
    }
   ],"spacing":2,"resolve":{"scale":{"color":"independent"},"legend":{"color":"independent"}}},
   {"vconcat":[
    {
     "title":{"text":"i"},
     "width":110,"height":65,
     "layer":[
      {"data":{"values":[
        {"x":-0.1405,"y":-0.0266,"Outcome":"Deceased"},{"x":-0.0856,"y":-0.0417,"Outcome":"Deceased"},{"x":-0.0721,"y":-0.0097,"Outcome":"Deceased"},{"x":-0.0162,"y":0.02,"Outcome":"Deceased"},{"x":-0.0144,"y":0.0092,"Outcome":"Deceased"},
        {"x":-0.0369,"y":-0.0173,"Outcome":"Survived"},{"x":0.0108,"y":0.0381,"Outcome":"Survived"},{"x":0.0748,"y":0.0149,"Outcome":"Survived"},{"x":0.0802,"y":0.0533,"Outcome":"Survived"},{"x":0.1,"y":0.0484,"Outcome":"Survived"}]},
       "mark":{"type":"circle","size":9,"opacity":1},
       "encoding":{
        "x":{"field":"x","type":"quantitative","scale":{"domain":[-0.1847,0.1126],"nice":false,"zero":false},"axis":{"title":"Mono_cells_PDE6H Day 1","labelFontSize":6.5,"tickCount":100,"labelOverlap":false,"format":".1f","values":[-0.15,-0.1,-0.05,0,0.05,0.1],"labelExpr":"indexof([-0.1,0,0.1],datum.value)>=0?datum.label:''","tickOpacity":{"condition":{"test":"indexof([-0.1,0,0.1],datum.value)<0","value":0},"value":1}}},
        "y":{"field":"y","type":"quantitative","scale":{"domain":[-0.0461,0.0597],"nice":false,"zero":false},"axis":{"title":"Mono_cells_KIF22 Day 5","labelFontSize":6.5,"titleFontSize":7,"tickCount":100,"labelOverlap":false,"format":".3f","values":[-0.0375,-0.025,-0.0125,0,0.0125,0.025,0.0375,0.05],"labelExpr":"indexof([-0.025,0,0.025,0.05],datum.value)>=0?datum.label:''","tickOpacity":{"condition":{"test":"indexof([-0.025,0,0.025,0.05],datum.value)<0","value":0},"value":1}}},
        "color":{"field":"Outcome","type":"nominal","scale":{"domain":["Deceased","Survived"],"range":["#0D5A8E","#FBC98D"]},"legend":{"orient":"top","direction":"horizontal","title":"Outcome","titleOrient":"left","symbolType":"circle","symbolSize":10,"offset":3,"columnPadding":4,"titlePadding":5,"labelOffset":1,"labelFontSize":7,"titleFontSize":7}}}},
      {"data":{"values":[{}]},"mark":{"type":"text","align":"left","baseline":"top","fontSize":7.5,"lineBreak":"\n","lineHeight":9},"encoding":{"x":{"datum":-0.176},"y":{"datum":0.0555},"text":{"value":"Rho=0.90\np=0.00088"}}}
     ]
    },
    {
     "title":{"text":"k"},
     "width":109,"height":63,
     "layer":[
      {"data":{"values":[
        {"x":-0.1423,"y":0.0141,"Outcome":"Deceased"},{"x":-0.0856,"y":0.0116,"Outcome":"Deceased"},{"x":-0.0721,"y":0.0075,"Outcome":"Deceased"},{"x":-0.0162,"y":-0.0013,"Outcome":"Deceased"},{"x":-0.018,"y":-0.0241,"Outcome":"Deceased"},
        {"x":-0.0369,"y":-0.0185,"Outcome":"Survived"},{"x":0.0099,"y":-0.0256,"Outcome":"Survived"},{"x":0.0748,"y":-0.0306,"Outcome":"Survived"},{"x":0.0802,"y":-0.0306,"Outcome":"Survived"},{"x":0.0991,"y":-0.0008,"Outcome":"Survived"}]},
       "mark":{"type":"circle","size":9,"opacity":1},
       "encoding":{
        "x":{"field":"x","type":"quantitative","scale":{"domain":[-0.1829,0.1126],"nice":false,"zero":false},"axis":{"title":"Mono_cells_PDE6H Day 1","labelFontSize":6.5,"tickCount":100,"labelOverlap":false,"format":".1f","values":[-0.15,-0.1,-0.05,0,0.05,0.1],"labelExpr":"indexof([-0.1,0,0.1],datum.value)>=0?datum.label:''","tickOpacity":{"condition":{"test":"indexof([-0.1,0,0.1],datum.value)<0","value":0},"value":1}}},
        "y":{"field":"y","type":"quantitative","scale":{"domain":[-0.0323,0.0151],"nice":false,"zero":false},"axis":{"title":"Mono_cells_NOC2L Day 5","labelFontSize":6.5,"titleFontSize":7,"tickCount":100,"labelOverlap":false,"format":".2f","values":[-0.03,-0.025,-0.02,-0.015,-0.01,-0.005,0,0.005,0.01],"labelExpr":"indexof([-0.03,-0.02,-0.01,0,0.01],datum.value)>=0?datum.label:''","tickOpacity":{"condition":{"test":"indexof([-0.03,-0.02,-0.01,0,0.01],datum.value)<0","value":0},"value":1}}},
        "color":{"field":"Outcome","type":"nominal","scale":{"domain":["Deceased","Survived"],"range":["#0D5A8E","#FBC98D"]},"legend":{"orient":"top","direction":"horizontal","title":"Outcome","titleOrient":"left","symbolType":"circle","symbolSize":10,"offset":3,"columnPadding":4,"titlePadding":5,"labelOffset":1,"labelFontSize":7,"titleFontSize":7}}}},
      {"data":{"values":[{}]},"mark":{"type":"text","align":"right","baseline":"top","fontSize":7.5,"lineBreak":"\n","lineHeight":9},"encoding":{"x":{"datum":0.097},"y":{"datum":0.0143},"text":{"value":"Rho=-0.70\np=0.031"}}}
     ]
    }
   ],"spacing":2,"resolve":{"scale":{"color":"independent"},"legend":{"color":"independent"}}}
  ],"spacing":-8,"resolve":{"scale":{"color":"independent"},"legend":{"color":"independent"}}},
  {
   "width":375,"height":142,
   "view":{"stroke":null},
   "resolve":{"scale":{"x":"independent","y":"independent"}},
   "layer":[
    {"data":{"name":"hm"},
     "transform":[{"flatten":["c","v"]},{"lookup":"r","from":{"data":{"name":"leaves"},"key":"name","fields":["pos"]},"as":["rp"]},{"lookup":"c","from":{"data":{"name":"leaves"},"key":"name","fields":["pos"]},"as":["cp"]}],
     "mark":{"type":"rect","width":19.07,"height":7.11,"stroke":"#9a9a9a","strokeWidth":0.4},
     "encoding":{
      "x":{"field":"cp","type":"quantitative","scale":{"domain":[-1.68,18],"nice":false,"zero":false},"axis":null},
      "y":{"field":"rp","type":"quantitative","scale":{"domain":[-1.97,18],"nice":false,"zero":false,"reverse":true},"axis":null},
      "color":{"field":"v","type":"quantitative","scale":{"domain":[-0.25,-0.0417,0.1667,0.375,0.5833,0.7917,1],"range":["#4575b4","#91bfdb","#e0f3f8","#ffffbf","#fee090","#fc8d59","#d73027"]},
       "legend":{"title":["Spearman's","Rho"],"orient":"right","offset":50,"padding":0,"gradientLength":82,"gradientThickness":6,"values":[-0.2,0,0.2,0.4,0.6,0.8,1],"format":"~g","labelFontSize":7,"titleFontSize":7,"titleAnchor":"start","titleAlign":"center","titlePadding":2,"labelOverlap":false}}}},
    {"data":{"name":"dendro"},
     "mark":{"type":"rule","color":"#555555","strokeWidth":0.7},
     "encoding":{
      "x":{"field":"p1","type":"quantitative","scale":{"domain":[-1.68,18],"nice":false,"zero":false},"axis":null},
      "x2":{"field":"p2"},
      "y":{"field":"h1","type":"quantitative","scale":{"domain":[-387.5,38.06],"nice":false,"zero":false},"axis":null},
      "y2":{"field":"h2"}}},
    {"data":{"name":"dendro"},
     "mark":{"type":"rule","color":"#555555","strokeWidth":0.7},
     "encoding":{
      "y":{"field":"p1","type":"quantitative","scale":{"domain":[-1.97,18],"nice":false,"zero":false,"reverse":true},"axis":null},
      "y2":{"field":"p2"},
      "x":{"field":"h1","type":"quantitative","scale":{"domain":[-1221.7,110],"nice":false,"zero":false,"reverse":true},"axis":null},
      "x2":{"field":"h2"}}},
    {"data":{"values":[{}]},
     "mark":{"type":"text","align":"right","baseline":"top","fontSize":8,"fontWeight":"bold","dx":-1},
     "encoding":{
      "x":{"datum":0,"type":"quantitative","scale":{"domain":[-1.68,18],"nice":false,"zero":false},"axis":null},
      "y":{"datum":-5.35,"type":"quantitative","scale":{"domain":[-1.97,18],"nice":false,"zero":false,"reverse":true},"axis":null},
      "text":{"value":"l"}}},
    {"data":{"name":"leaves"},
     "transform":[{"filter":"datum.name !== 'Mono_cells_NOC2L'"}],
     "mark":{"type":"text","align":"left","baseline":"middle","fontSize":6.8},
     "encoding":{
      "x":{"datum":18.2,"type":"quantitative","scale":{"domain":[-1.68,18],"nice":false,"zero":false},"axis":null},
      "y":{"field":"pos","type":"quantitative","scale":{"domain":[-1.97,18],"nice":false,"zero":false,"reverse":true},"axis":null},
      "text":{"field":"name"}}},
    {"data":{"name":"leaves"},
     "transform":[{"filter":"datum.name === 'Mono_cells_NOC2L'"}],
     "mark":{"type":"text","align":"left","baseline":"middle","fontSize":6.8,"fontWeight":"bold"},
     "encoding":{
      "x":{"datum":18.2,"type":"quantitative","scale":{"domain":[-1.68,18],"nice":false,"zero":false},"axis":null},
      "y":{"field":"pos","type":"quantitative","scale":{"domain":[-1.97,18],"nice":false,"zero":false,"reverse":true},"axis":null},
      "text":{"field":"name"}}},
    {"data":{"name":"leaves"},
     "transform":[{"filter":"datum.name !== 'Mono_cells_NOC2L'"}],
     "mark":{"type":"text","align":"left","baseline":"middle","fontSize":6.8,"angle":90},
     "encoding":{
      "x":{"field":"pos","type":"quantitative","scale":{"domain":[-1.68,18],"nice":false,"zero":false},"axis":null},
      "y":{"datum":18.55,"type":"quantitative","scale":{"domain":[-1.97,18],"nice":false,"zero":false,"reverse":true},"axis":null},
      "text":{"field":"lab"}}},
    {"data":{"name":"leaves"},
     "transform":[{"filter":"datum.name === 'Mono_cells_NOC2L'"}],
     "mark":{"type":"text","align":"left","baseline":"middle","fontSize":6.8,"angle":90,"fontWeight":"bold","lineBreak":"\n","lineHeight":8},
     "encoding":{
      "x":{"field":"pos","type":"quantitative","scale":{"domain":[-1.68,18],"nice":false,"zero":false},"axis":null},
      "y":{"datum":18.55,"type":"quantitative","scale":{"domain":[-1.97,18],"nice":false,"zero":false,"reverse":true},"axis":null},
      "text":{"field":"lab"}}}
   ]
  }
 ],"spacing":13,"resolve":{"scale":{"color":"independent"},"legend":{"color":"independent"}}}
]
}
